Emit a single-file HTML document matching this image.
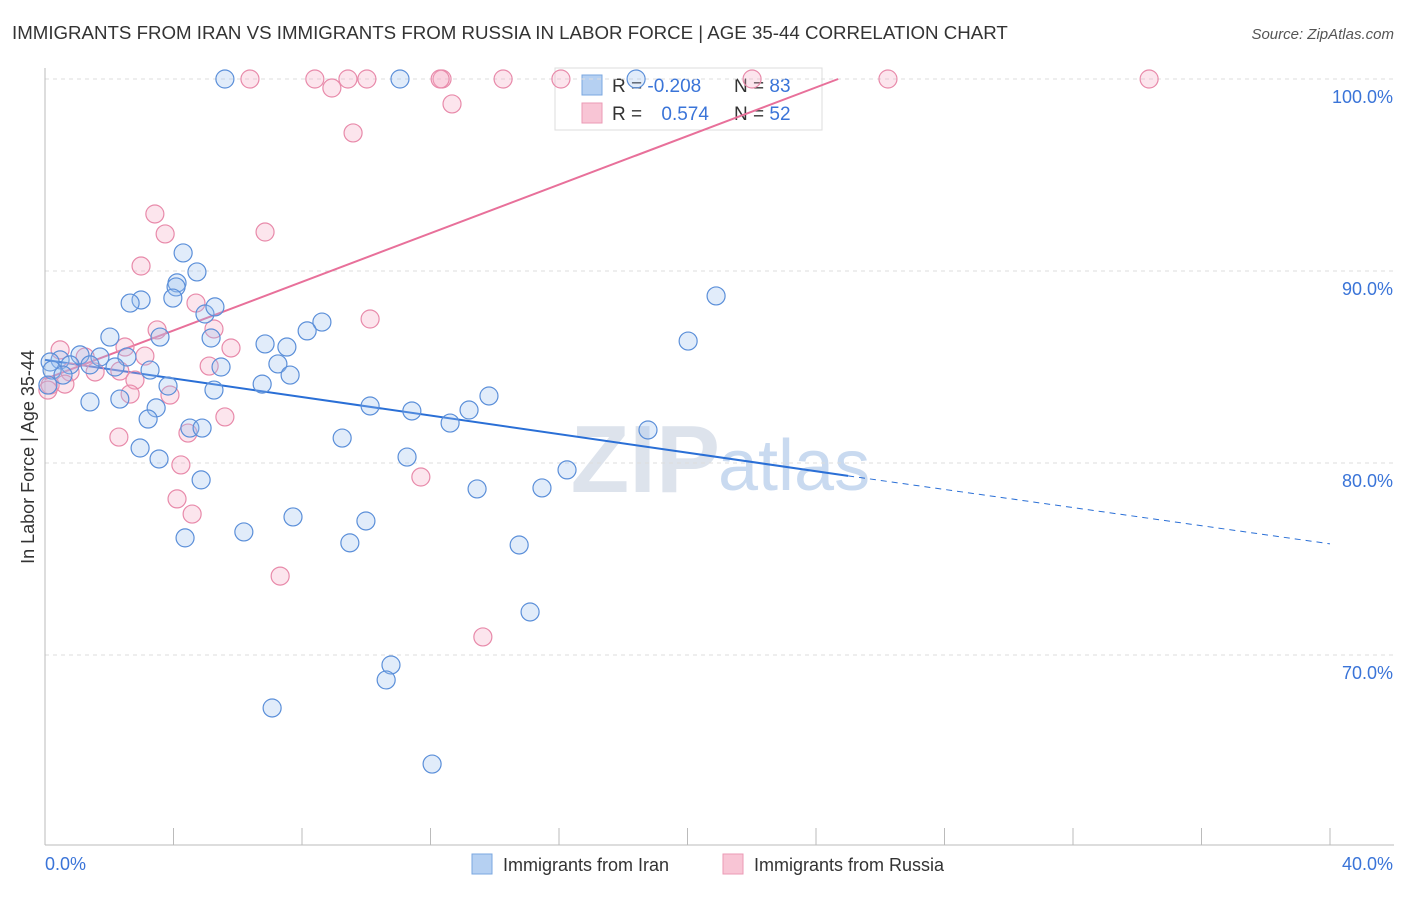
<!DOCTYPE html>
<html><head><meta charset="utf-8"><style>
body{margin:0;background:#fff;font-family:"Liberation Sans",sans-serif;}
svg text{font-family:"Liberation Sans",sans-serif;}
</style></head><body>
<svg id="chart" width="1406" height="892">
<text x="12" y="39" font-size="18.7" fill="#333">IMMIGRANTS FROM IRAN VS IMMIGRANTS FROM RUSSIA IN LABOR FORCE | AGE 35-44 CORRELATION CHART</text>
<text x="1394" y="39" font-size="15" fill="#555" text-anchor="end" font-style="italic">Source: ZipAtlas.com</text>
<text x="720" y="492" font-size="96" fill="#dde3ec" text-anchor="end" font-family="Liberation Serif" font-weight="bold">ZIP</text>
<text x="718" y="490" font-size="72" fill="#c9daf0">atlas</text>
<g>
<rect x="555" y="68" width="267" height="62" fill="#fff" stroke="#ddd"/>
<rect x="582" y="75" width="20" height="20" fill="#b5d0f2" stroke="#7aa7e0"/>
<rect x="582" y="103" width="20" height="20" fill="#f8c5d5" stroke="#eb9ab5"/>
<text x="612" y="92" font-size="19" fill="#333">R = <tspan fill="#3a74d8">-0.208</tspan></text>
<text x="734" y="92" font-size="19" fill="#333">N = <tspan fill="#3a74d8">83</tspan></text>
<text x="612" y="120" font-size="19" fill="#333">R = <tspan fill="#3a74d8" dx="14">0.574</tspan></text>
<text x="734" y="120" font-size="19" fill="#333">N = <tspan fill="#3a74d8">52</tspan></text>
</g>
<g id="grid"></g><g id="axes"></g><g id="trends"></g><g id="pts"></g>
<text x="34" y="457" font-size="18" fill="#333" text-anchor="middle" transform="rotate(-90 34 457)">In Labor Force | Age 35-44</text>
<g>
<rect x="472" y="854" width="20" height="20" fill="#b5d0f2" stroke="#7aa7e0"/>
<text x="503" y="871" font-size="18" fill="#333">Immigrants from Iran</text>
<rect x="723" y="854" width="20" height="20" fill="#f8c5d5" stroke="#eb9ab5"/>
<text x="754" y="871" font-size="18" fill="#333">Immigrants from Russia</text>
</g>
</svg>
<script>
const yTicks=[100,90,80,70];
const xTickLabels=["0.0%","40.0%"];
const iranX=[5.60,11.05,4.30,4.73,4.11,4.08,3.98,2.99,2.65,4.98,5.29,8.62,8.16,2.02,3.58,5.17,6.85,7.53,2.55,1.09,1.71,0.47,0.16,0.78,1.40,2.18,3.27,5.48,7.25,7.63,6.76,3.83,5.26,13.82,1.40,2.33,3.46,10.12,11.42,13.20,12.61,3.21,4.51,4.89,9.25,2.96,3.55,11.27,16.25,4.86,13.45,15.47,7.72,9.99,6.19,4.36,9.49,14.76,15.10,10.77,10.62,7.07,12.05,20.89,20.02,18.77,18.40,0.22,0.09,0.56];
const iranY=[100,100,90.94,89.95,89.38,89.17,88.59,88.49,88.33,87.76,88.13,87.34,86.88,86.56,86.56,86.51,86.20,86.04,85.52,85.63,85.52,85.37,85.26,85.11,85.11,85.00,84.84,85.00,85.16,84.58,84.11,84.01,83.80,83.49,83.18,83.33,82.87,82.97,82.71,82.76,82.08,82.29,81.82,81.82,81.30,80.78,80.21,80.31,79.64,79.12,78.65,78.70,77.19,76.98,76.41,76.10,75.84,75.73,72.24,69.48,68.70,67.24,64.32,88.70,86.35,81.72,100,84.84,84.06,84.58];
const russiaX=[6.38,8.40,9.43,10.02,12.36,12.30,14.26,16.06,22.01,26.24,34.37,8.93,12.67,9.59,3.42,3.74,6.85,2.99,4.70,10.12,3.49,5.26,5.79,2.49,0.47,3.11,1.25,5.11,2.33,1.56,0.78,0.16,0.09,2.80,3.89,2.65,5.60,4.45,2.30,4.23,11.70,4.11,4.58,7.32,13.63,0.62];
const russiaY=[100,100,100,100,100,100,100,100,100,100,100,99.53,98.70,97.19,92.97,91.93,92.03,90.26,88.33,87.50,86.93,86.98,85.99,86.04,85.89,85.57,85.52,85.05,84.79,84.74,84.74,84.06,83.80,84.32,83.54,83.59,82.40,81.56,81.35,79.90,79.27,78.13,77.34,74.11,70.94,84.11];
const iranTrendX=[0,25,40], iranTrendY=[85.37,79.33,75.79];
const russiaTrendX=[0,24.69], russiaTrendY=[84.37,100];
const NS="http://www.w3.org/2000/svg";
const sx=v=>45+v/40*1285, sy=v=>79+(100-v)*19.2;
function mk(t,a,p){const e=document.createElementNS(NS,t);for(const k in a)e.setAttribute(k,a[k]);p.appendChild(e);return e;}
const grid=document.getElementById('grid'),axes=document.getElementById('axes');
yTicks.forEach(v=>{
 const l=mk('line',{x1:45,x2:1394,y1:sy(v),y2:sy(v),stroke:'#ddd','stroke-dasharray':'4,4'},grid);
 
 
 const t=mk('text',{x:1393,y:sy(v)+24,'font-size':18,fill:'#3a74d8','text-anchor':'end'},grid);
 t.textContent=v.toFixed(1)+'%';
 
 
});
const ax=mk('line',{x1:45,x2:1394,y1:845,y2:845,stroke:'#bbb'},axes);


const ay=mk('line',{x1:45,x2:45,y1:68,y2:845,stroke:'#bbb'},axes);


for(let i=0;i<=10;i++){const t=mk('line',{x1:sx(i*4),x2:sx(i*4),y1:828,y2:845,stroke:'#bbb'},axes);
 
 }
[[0,'start'],[40,'end']].forEach((p,i)=>{const t=mk('text',{x:p[0]==0?45:1393,y:870,'font-size':18,fill:'#3a74d8','text-anchor':p[1]},axes);t.textContent=xTickLabels[i];
 
 });
const tr=document.getElementById('trends');
const b1=mk('line',{x1:sx(iranTrendX[0]),y1:sy(iranTrendY[0]),x2:sx(iranTrendX[1]),y2:sy(iranTrendY[1]),stroke:'#2a6fd6','stroke-width':2},tr);


const b2=mk('line',{x1:sx(iranTrendX[1]),y1:sy(iranTrendY[1]),x2:sx(iranTrendX[2]),y2:sy(iranTrendY[2]),stroke:'#2a6fd6','stroke-width':1,'stroke-dasharray':'6,5'},tr);


const p1=mk('line',{x1:sx(russiaTrendX[0]),y1:sy(russiaTrendY[0]),x2:sx(russiaTrendX[1]),y2:sy(russiaTrendY[1]),stroke:'#e8709a','stroke-width':2},tr);


const pts=document.getElementById('pts');
function plot(X,Y,fill,stroke,name){X.forEach((x,i)=>{
 const c=mk('circle',{cx:sx(x),cy:sy(Y[i]),r:9,fill:fill,'fill-opacity':0.3,stroke:stroke,'stroke-width':1.2},pts);
 
 
});}
plot(russiaX,russiaY,'#f4a9c2','#e88aaa','russia-point');
plot(iranX,iranY,'#9cc0ee','#5b8fd9','iran-point');
</script>
</body></html>
